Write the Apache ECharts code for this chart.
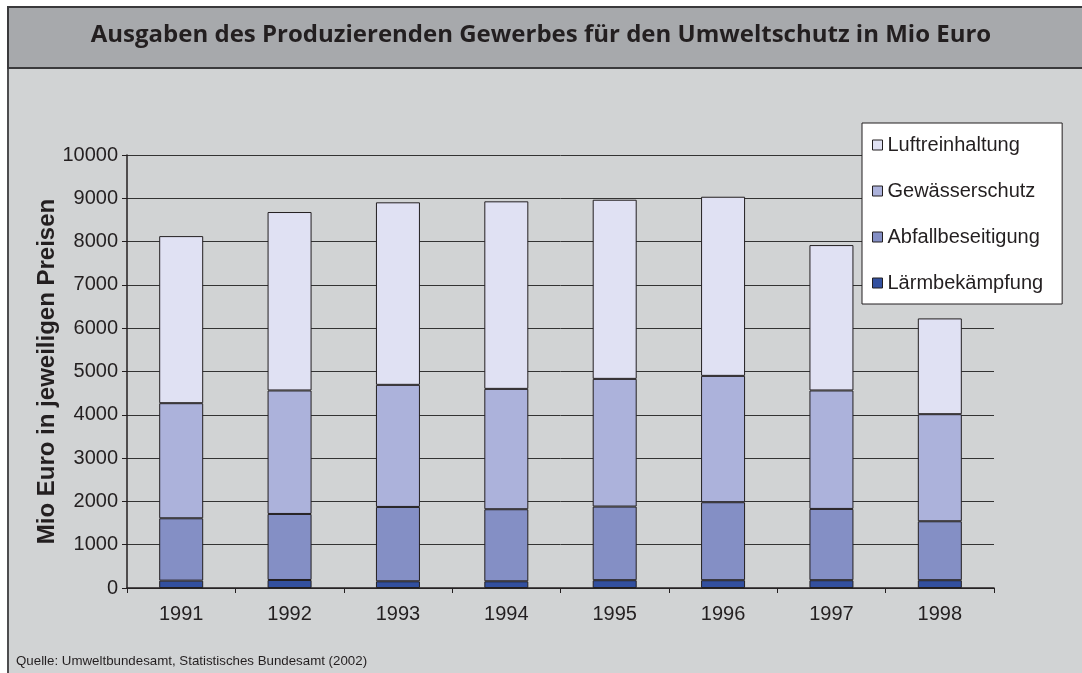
<!DOCTYPE html>
<html>
<head>
<meta charset="utf-8">
<script src="https://cdn.jsdelivr.net/npm/echarts@6/dist/echarts.min.js"></script>
<style>
  html, body { margin: 0; padding: 0; background: #fff; }
  #chart { width: 1082px; height: 673px; }
</style>
</head>
<body>
<div id="chart"></div>
<script>
// years on the x axis
const years = ['1991', '1992', '1993', '1994', '1995', '1996', '1997', '1998']

// stacked segments, Mio Euro (bottom to top)
const laerm = [170, 185, 155, 155, 180, 180, 180, 180]
const abfall = [1440, 1525, 1717, 1664, 1701, 1801, 1646, 1361]
const gewaesser = [2658, 2852, 2820, 2780, 2949, 2918, 2736, 2473]
const luft = [3859, 4121, 4215, 4331, 4137, 4137, 3358, 2212]

const yMin = 0
const yMax = 10000
const yStep = 1000

const ink = '#231f20'
const labelFont = '"Liberation Sans", Arial, sans-serif'

const chart = echarts.init(document.getElementById('chart'), null, { renderer: 'canvas' })

const seg = (name, data, color) => ({
  name,
  type: 'bar',
  stack: 'total',
  barWidth: 44,
  data,
  itemStyle: { color, borderColor: ink, borderWidth: 1 },
  emphasis: { disabled: true },
})

chart.setOption({
  animation: false,
  backgroundColor: '#ffffff',
  graphic: [
    // body panel
    {
      type: 'rect', z: -10, silent: true,
      shape: { x: 8, y: 7, width: 1090, height: 700 },
      style: { fill: '#d1d3d4', stroke: '#4d4d4f', lineWidth: 2 },
    },
    // title band
    {
      type: 'rect', z: -9, silent: true,
      shape: { x: 8, y: 7, width: 1090, height: 61 },
      style: { fill: '#a7a9ac', stroke: '#3a3a3c', lineWidth: 2 },
    },
    {
      type: 'text', z: 5, silent: true,
      left: 'center', top: 23,
      style: {
        text: 'Ausgaben des Produzierenden Gewerbes für den Umweltschutz in Mio Euro',
        font: '700 24px "Open Sans", sans-serif',
        fill: ink,
      },
    },
    {
      type: 'text', z: 5, silent: true,
      left: 16, top: 655,
      style: {
        text: 'Quelle: Umweltbundesamt, Statistisches Bundesamt (2002)',
        font: '13.3px ' + labelFont,
        fill: ink,
      },
    },
  ],
  grid: { left: 127, right: 88, top: 155, bottom: 85 },
  legend: {
    orient: 'vertical',
    left: 862,
    top: 123,
    padding: [12, 19, 11, 10],
    itemGap: 26,
    itemWidth: 10,
    itemHeight: 10,
    icon: 'rect',
    backgroundColor: '#ffffff',
    borderColor: ink,
    borderWidth: 1,
    borderRadius: 0,
    itemStyle: { borderColor: ink, borderWidth: 1 },
    textStyle: { color: ink, fontSize: 20, fontFamily: labelFont, lineHeight: 20 },
    data: ['Luftreinhaltung', 'Gewässerschutz', 'Abfallbeseitigung', 'Lärmbekämpfung'],
  },
  xAxis: {
    type: 'category',
    data: years,
    axisLine: { lineStyle: { color: ink, width: 1.5 } },
    axisTick: { show: true, length: 5, lineStyle: { color: ink } },
    axisLabel: { color: ink, fontSize: 20, fontFamily: labelFont, margin: 16 },
  },
  yAxis: {
    type: 'value',
    min: yMin,
    max: yMax,
    interval: yStep,
    name: 'Mio Euro in jeweiligen Preisen',
    nameLocation: 'middle',
    nameGap: 68,
    nameMoveOverlap: false,
    nameTextStyle: { color: ink, fontSize: 24, fontWeight: 'bold', fontFamily: labelFont },
    axisLine: { show: true, lineStyle: { color: ink, width: 1.5 } },
    axisTick: { show: true, length: 5, lineStyle: { color: ink } },
    axisLabel: { color: ink, fontSize: 20, fontFamily: labelFont, margin: 9, formatter: (v) => String(v) },
    splitLine: { lineStyle: { color: '#333333', width: 1 } },
  },
  series: [
    seg('Lärmbekämpfung', laerm, '#33509f'),
    seg('Abfallbeseitigung', abfall, '#848fc5'),
    seg('Gewässerschutz', gewaesser, '#acb2db'),
    seg('Luftreinhaltung', luft, '#e0e1f3'),
  ],
})
</script>
</body>
</html>
